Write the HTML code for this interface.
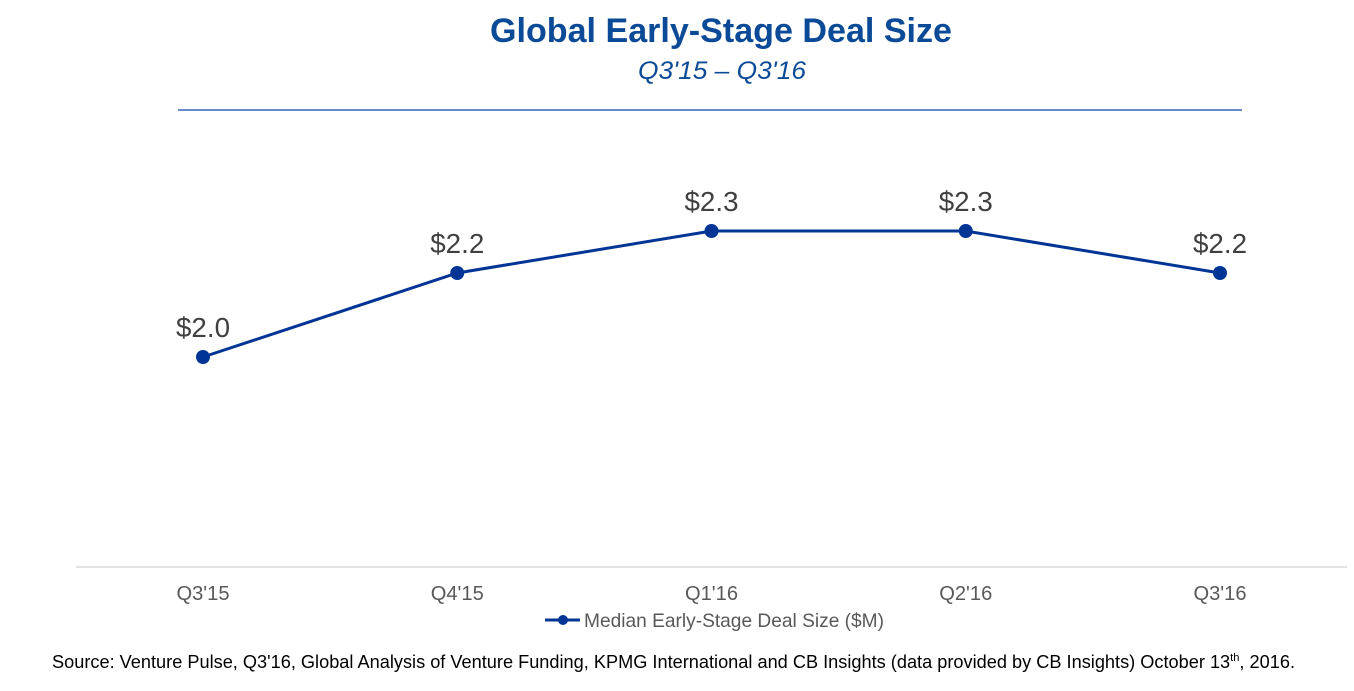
<!DOCTYPE html>
<html><head><meta charset="utf-8">
<style>
body{margin:0;background:#fff;width:1354px;height:686px;overflow:hidden;font-family:"Liberation Sans",Arial,sans-serif;}
</style></head>
<body>
<svg width="1354" height="686" xmlns="http://www.w3.org/2000/svg">
<text x="721" y="42" text-anchor="middle" font-size="34" font-weight="bold" fill="#0b4a97" textLength="462" lengthAdjust="spacingAndGlyphs">Global Early-Stage Deal Size</text>
<text x="722" y="79" text-anchor="middle" font-size="25" font-style="italic" fill="#0b4a97" textLength="168" lengthAdjust="spacingAndGlyphs">Q3'15 – Q3'16</text>
<line x1="178" y1="110" x2="1242" y2="110" stroke="#3a66b8" stroke-width="1.5"/>
<line x1="76" y1="567" x2="1347" y2="567" stroke="#d9d9d9" stroke-width="1.5"/>
<g id="ticks"></g>
<g id="series"></g>
<g>
<line x1="545" y1="620" x2="580" y2="620" stroke="#003595" stroke-width="3"/>
<circle cx="563" cy="620" r="5" fill="#003595"/>
<text x="584" y="627" font-size="19.5" fill="#595959" textLength="300" lengthAdjust="spacingAndGlyphs">Median Early-Stage Deal Size ($M)</text>
</g>
<text x="52" y="668" font-size="18" fill="#000" textLength="1243" lengthAdjust="spacingAndGlyphs">Source: Venture Pulse, Q3'16, Global Analysis of Venture Funding, KPMG International and CB Insights (data provided by CB Insights) October 13<tspan font-size="11" dy="-7">th</tspan><tspan dy="7">, 2016.</tspan></text>
</svg>
<script>
const categories=["Q3'15","Q4'15","Q1'16","Q2'16","Q3'16"];
const values=[2.0,2.2,2.3,2.3,2.2];
const valueLabels=["$2.0","$2.2","$2.3","$2.3","$2.2"];
const NS="http://www.w3.org/2000/svg";
function xPos(i){return 203+i*254.25;}
function yPos(v){return 567-(v-1.5)*420;}
const ticks=document.getElementById('ticks');
const series=document.getElementById('series');
categories.forEach((c,i)=>{
 const t=document.createElementNS(NS,'text');
 
 
 t.setAttribute('x',xPos(i));t.setAttribute('y',600);t.setAttribute('text-anchor','middle');
 t.setAttribute('font-size','20');t.setAttribute('fill','#595959');t.textContent=c;
 t.setAttribute('textLength','53');t.setAttribute('lengthAdjust','spacingAndGlyphs');
 ticks.appendChild(t);
});
const pl=document.createElementNS(NS,'polyline');


pl.setAttribute('points',values.map((v,i)=>xPos(i)+','+yPos(v)).join(' '));
pl.setAttribute('fill','none');pl.setAttribute('stroke','#003595');pl.setAttribute('stroke-width','3');
series.appendChild(pl);
values.forEach((v,i)=>{
 const c=document.createElementNS(NS,'circle');
 
 
 c.setAttribute('cx',xPos(i));c.setAttribute('cy',yPos(v));c.setAttribute('r',7);c.setAttribute('fill','#003595');
 series.appendChild(c);
 const t=document.createElementNS(NS,'text');
 
 
 t.setAttribute('x',xPos(i));t.setAttribute('y',yPos(v)-20);t.setAttribute('text-anchor','middle');
 t.setAttribute('font-size','28');t.setAttribute('fill','#404040');t.textContent=valueLabels[i];
 t.setAttribute('textLength','54');t.setAttribute('lengthAdjust','spacingAndGlyphs');
 series.appendChild(t);
});
</script>
</body></html>
